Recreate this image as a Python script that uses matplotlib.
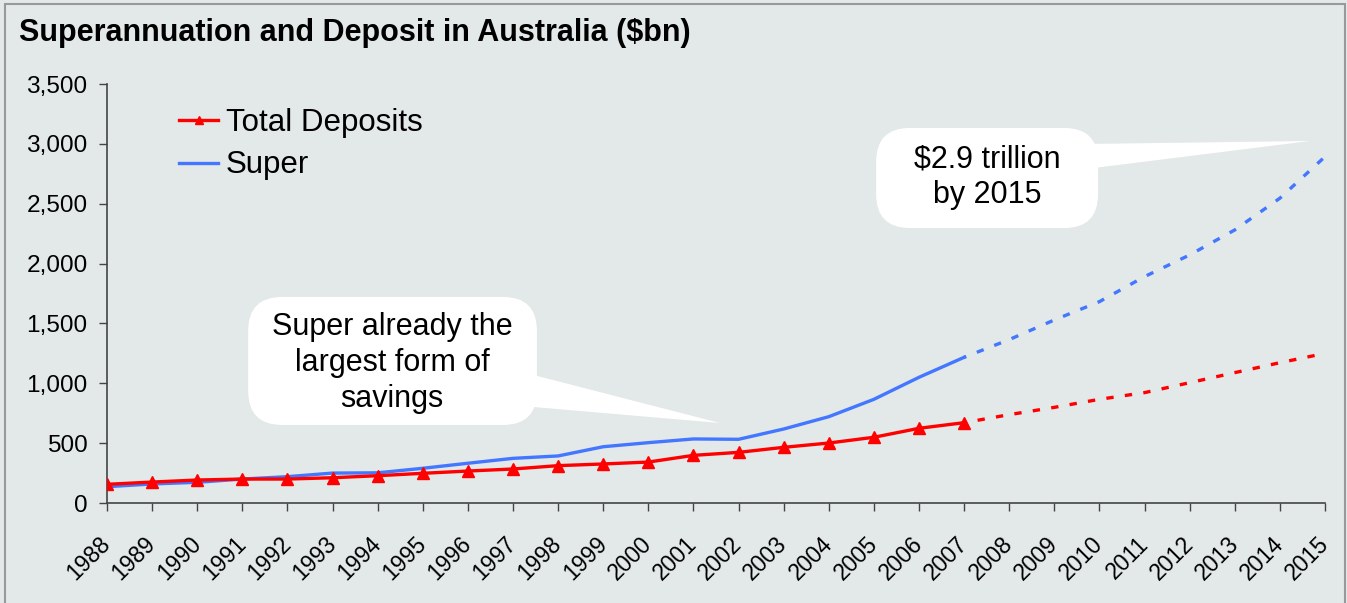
import matplotlib.pyplot as plt
from matplotlib.patches import FancyBboxPatch, Polygon, Rectangle
from matplotlib.lines import Line2D

plt.rcParams['font.family'] = ['Liberation Sans', 'DejaVu Sans']

# actual data 1988-2007
years = list(range(1988, 2008))
deposits = [156, 175, 192, 200, 200, 211, 228, 248, 267, 284,
            312, 326, 342, 398, 423, 465, 501, 549, 624, 671]
super_fund = [136, 159, 173, 200, 220, 250, 252, 290, 332, 373,
              393, 470, 504, 535, 532, 618, 721, 866, 1050, 1217]

# projections 2007-2015
proj_years = list(range(2007, 2016))
deposits_proj = [671, 738, 799, 866, 922, 1005, 1089, 1172, 1250]
super_proj = [1217, 1365, 1529, 1682, 1891, 2072, 2281, 2546, 2893]

bg = '#e3e8e8'
red = '#ff0000'
blue = '#4477ff'

fig = plt.figure(figsize=(13.47, 6.03), dpi=100, facecolor=bg)
ax = fig.add_axes([107 / 1347, 1 - 503 / 603, 1218 / 1347, 419 / 603])
ax.set_facecolor(bg)

ax.plot(years, deposits, color=red, lw=2.4, marker='^', markersize=8, zorder=3)
ax.plot(years, super_fund, color=blue, lw=2.4, zorder=2)
ax.plot(proj_years, deposits_proj, color=red, lw=2.4, linestyle=(1.5, (2.2, 3.4)), zorder=3)
ax.plot(proj_years, super_proj, color=blue, lw=2.4, linestyle=(1.5, (2.2, 3.4)), zorder=2)

ax.set_xlim(1988, 2015)
ax.set_ylim(0, 3500)
ax.set_xticks(list(range(1988, 2016)))
ax.set_xticklabels([str(y) for y in range(1988, 2016)], rotation=45,
                   ha='right', va='center', rotation_mode='anchor')
ax.set_yticks(range(0, 3501, 500))
ax.set_yticklabels(['{:,}'.format(v) for v in range(0, 3501, 500)])
ax.tick_params(axis='both', length=6, width=1, color='#444444', direction='out')
ax.tick_params(axis='y', labelsize=17.6, pad=8)
ax.tick_params(axis='x', labelsize=16.5, pad=21)
for s in ['top', 'right']:
    ax.spines[s].set_visible(False)
for s in ['left', 'bottom']:
    ax.spines[s].set_color('#444444')
    ax.spines[s].set_linewidth(1.2)

# legend
handles = [Line2D([], [], color=red, lw=2.4, marker='^', markersize=6),
           Line2D([], [], color=blue, lw=2.4)]
fig.legend(handles, ['Total Deposits', 'Super'], loc='upper left',
           bbox_to_anchor=(179 / 1347, 1 - 108 / 603), frameon=False,
           fontsize=22.5, handlelength=1.25, handletextpad=0.25,
           borderpad=0, borderaxespad=0, labelspacing=0.4)

# callout 1
asp = (1 / 0.1197) / (1 / 45.1)
box1 = FancyBboxPatch((1991.13, 652), 6.4, 1069,
                      boxstyle='round,pad=0,rounding_size=0.75',
                      mutation_aspect=asp, fc='white', ec='none', zorder=5)
ax.add_patch(box1)
ax.add_patch(Polygon([(1997.2, 1094), (1997.2, 810), (2001.59, 668)],
                     closed=True, fc='white', ec='none', zorder=5))
ax.text(1994.32, 1170, 'Super already the\nlargest form of\nsavings',
        ha='center', va='center', fontsize=22, linespacing=1.27, zorder=6)

# callout 2
box2 = FancyBboxPatch((2005.05, 2297), 4.92, 836,
                      boxstyle='round,pad=0,rounding_size=0.75',
                      mutation_aspect=asp, fc='white', ec='none', zorder=5)
ax.add_patch(box2)
ax.add_patch(Polygon([(2009.7, 2999), (2009.7, 2790), (2014.67, 3024)],
                     closed=True, fc='white', ec='none', zorder=5))
ax.text(2007.51, 2720, '\\$2.9 trillion\nby 2015',
        ha='center', va='center', fontsize=22, linespacing=1.25, zorder=6)

fig.text(19 / 1347, 1 - 33 / 603, 'Superannuation and Deposit in Australia (\\$bn)',
         fontsize=22, fontweight='bold', va='center', ha='left')

fig.patches.append(Rectangle((5 / 1347, -0.05), 1340 / 1347, 1.05 - 4 / 603,
                             transform=fig.transFigure, fill=False,
                             ec='#999999', lw=1.5))

plt.savefig('out.png', dpi=100, facecolor=bg)
plt.close()
